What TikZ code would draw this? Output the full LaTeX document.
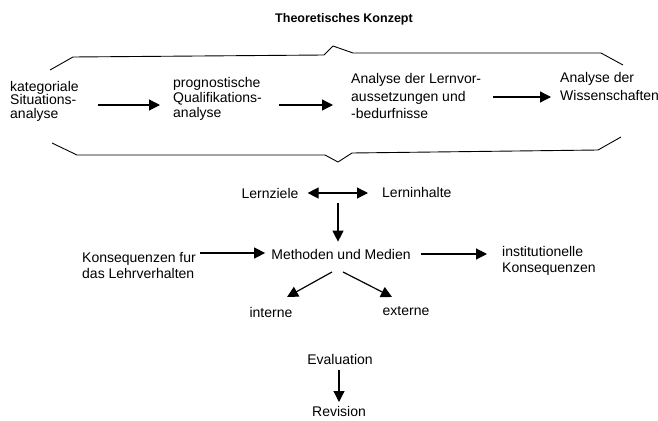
\documentclass[tikz,border=0pt]{standalone}
\usepackage{fontspec}
\setmainfont{Liberation Sans}
\usetikzlibrary{arrows.meta}
\begin{document}
\begin{tikzpicture}[x=1pt,y=-1pt,
  lbl/.style={inner sep=0pt, font=\fontsize{14}{16}\selectfont, align=left},
  ttl/.style={inner sep=0pt, font=\bfseries\fontsize{12.5}{14}\selectfont},
  arr/.style={line width=1.2pt, -{Triangle[length=11pt,width=11pt]}},
  dbl/.style={line width=1.2pt, {Triangle[length=11pt,width=11pt]}-{Triangle[length=11pt,width=11pt]}},
  brace/.style={line width=0.9pt, line join=round}]
\useasboundingbox (0,0) rectangle (658,420);

% title
\node[ttl] (title) at (344,19) {Theoretisches Konzept};

% brace frame
\draw[brace] (50,70) -- (73,57) -- (324,55) -- (333,46) -- (353,53) -- (601,53) -- (623,65);
\draw[brace] (52,143) -- (77,155) -- (325,155) -- (338,162) -- (352,153) -- (598,150) -- (621,137);

% row 1
\node[lbl, anchor=west, font=\fontsize{14}{13.5}\selectfont] (kat) at (10,101) {kategoriale\\Situations-\\analyse};
\node[lbl, anchor=west, font=\fontsize{14}{15}\selectfont] (prog) at (173,99) {prognostische\\Qualifikations-\\analyse};
\node[lbl, anchor=west, font=\fontsize{14}{17.5}\selectfont] (lern) at (351,96) {Analyse der Lernvor-\\aussetzungen und\\-bedurfnisse};
\node[lbl, anchor=west, font=\fontsize{14}{18}\selectfont] (wiss) at (560,86) {Analyse der\\Wissenschaften};

\draw[arr, shorten <=19pt, shorten >=13pt] ([yshift=-4pt]kat.east) -- ([yshift=-4pt]kat.east -| prog.west);
\draw[arr, shorten <=17pt, shorten >=18pt] ([yshift=-6pt]prog.east) -- ([yshift=-6pt]prog.east -| lern.west);
\draw[arr, shorten <=12pt, shorten >=9pt] ([yshift=-1pt]lern.east) -- ([yshift=-1pt]lern.east -| wiss.west);

% row 2
\node[lbl] (lz) at (270,193) {Lernziele};
\node[lbl, anchor=west] (li) at (382,192) {Lerninhalte};
\coordinate (vtop) at (338,203);
\draw[dbl, shorten <=9pt, shorten >=14pt] (lz.east) -- (lz.east -| li.west);

\node[lbl] (mm) at (341,254) {Methoden und Medien};
\node[lbl, anchor=west] (kons) at (82,265) {Konsequenzen fur\\das Lehrverhalten};
\node[lbl, anchor=west] (inst) at (502,261) {institutionelle\\Konsequenzen};

\draw[arr, shorten >=7pt] (vtop) -- (vtop |- mm.north);
\draw[arr, shorten <=4pt, shorten >=6pt] ([yshift=1pt]kons.east |- mm.west) -- ([yshift=1pt]mm.west);
\draw[arr, shorten <=10pt, shorten >=15pt] (mm.east) -- (mm.east -| inst.west);

\node[lbl] (int) at (271,312) {interne};
\node[lbl] (ext) at (406,311) {externe};
\draw[arr] ([xshift=-9pt,yshift=-18pt]mm.center) -- ([xshift=16pt,yshift=15pt]int.center);
\draw[arr] ([xshift=2pt,yshift=-18pt]mm.center) -- ([xshift=-14pt,yshift=14pt]ext.center);

% evaluation
\node[lbl] (eva) at (340,359) {Evaluation};
\node[lbl] (rev) at (339,411) {Revision};
\draw[arr] ([xshift=-1pt,yshift=-11pt]eva.center) -- ([yshift=9pt]rev.center);
\end{tikzpicture}
\end{document}
